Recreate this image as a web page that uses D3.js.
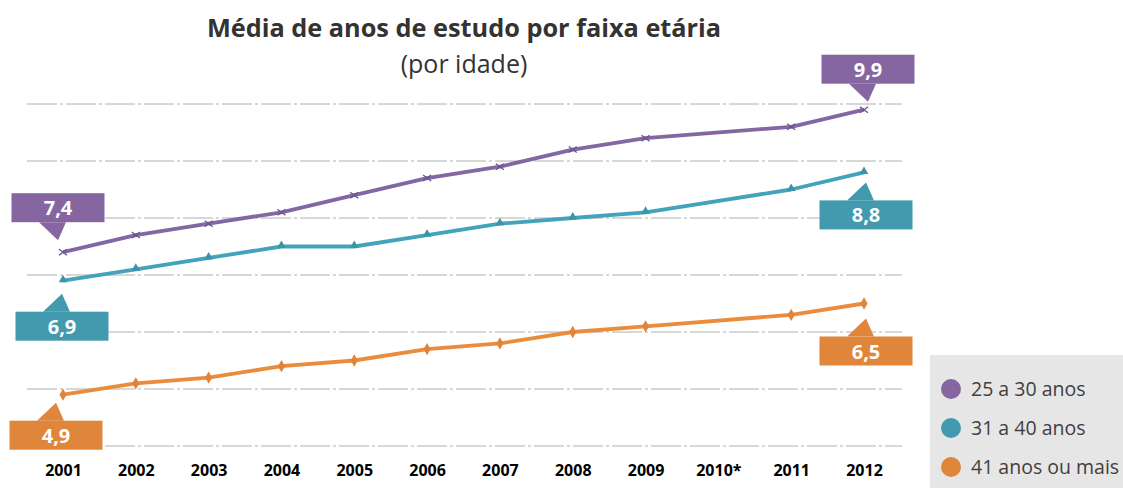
<html>
<head>
<meta charset="utf-8">
<script src="https://d3js.org/d3.v7.min.js"></script>
<style>
  body { margin:0; background:#fff; }
  svg { font-family: "Open Sans", sans-serif; }
  .grid line { stroke:#b0b0b0; stroke-width:1; stroke-dasharray:30,3,3,3; }
  .serie { fill:none; stroke-linejoin:round; }
</style>
</head>
<body>
<script>
// categorias do eixo x (2010 sem dado)
var anos = ["2001","2002","2003","2004","2005","2006","2007","2008","2009","2010*","2011","2012"];

// valores por faixa etaria (null = sem pesquisa)
var faixa25a30 = [7.4, 7.7, 7.9, 8.1, 8.4, 8.7, 8.9, 9.2, 9.4, null, 9.6, 9.9];
var faixa31a40 = [6.9, 7.1, 7.3, 7.5, 7.5, 7.7, 7.9, 8.0, 8.1, null, 8.5, 8.8];
var faixa41mais = [4.9, 5.1, 5.2, 5.4, 5.5, 5.7, 5.8, 6.0, 6.1, null, 6.3, 6.5];

var legendas = ["25 a 30 anos", "31 a 40 anos", "41 anos ou mais"];
var gradeY = [4, 5, 6, 7, 8, 9, 10];

var cores = ["#8466a3", "#43a3bb", "#ea8c3c"];
var coresCaixa = ["#8566a0", "#4399ae", "#df863b"];

var W = 1123, H = 488;

var svg = d3.select("body").append("svg")
  .attr("width", W).attr("height", H);

var x = d3.scalePoint().domain(anos).range([63, 864]);
var y = d3.scaleLinear().domain([4, 10]).range([446, 104]);

// titulo
svg.append("text").attr("x", 464).attr("y", 37)
  .attr("text-anchor", "middle").attr("font-size", 25.3).attr("font-weight", "bold")
  .attr("fill", "#333").text("Média de anos de estudo por faixa etária");
svg.append("text").attr("x", 464).attr("y", 73)
  .attr("text-anchor", "middle").attr("font-size", 25)
  .attr("fill", "#333").text("(por idade)");

// grade
svg.append("g").attr("class", "grid")
  .selectAll("line").data(gradeY).enter().append("line")
  .attr("x1", 27).attr("x2", 902)
  .attr("y1", function(d){ return y(d); })
  .attr("y2", function(d){ return y(d); });

// eixo x
var eixo = svg.append("g").attr("transform", "translate(0,446)")
  .call(d3.axisBottom(x).tickSize(0).tickPadding(19));
eixo.select(".domain").remove();
eixo.selectAll("text").attr("font-size", 16).attr("font-weight", "bold")
  .attr("fill", "#000").attr("font-family", "Open Sans, sans-serif");

var series = [faixa25a30, faixa31a40, faixa41mais];

var linha = d3.line()
  .x(function(d){ return x(d.ano); })
  .y(function(d){ return y(d.v); });

series.forEach(function(s, i){
  var pts = anos.map(function(a, j){ return {ano:a, v:s[j]}; })
    .filter(function(d){ return d.v != null; });

  svg.append("path").datum(pts).attr("class", "serie")
    .attr("stroke", cores[i]).attr("stroke-width", 3.8)
    .attr("d", linha);

  var g = svg.append("g");
  pts.forEach(function(d){
    var cx = x(d.ano), cy = y(d.v);
    if (i == 0) {
      g.append("path").attr("d", "M"+(cx-4)+","+(cy-3)+"L"+(cx+4)+","+(cy+3)+"M"+(cx-4)+","+(cy+3)+"L"+(cx+4)+","+(cy-3))
        .attr("stroke", "#6b5290").attr("stroke-width", 1.3);
    } else if (i == 1) {
      g.append("path").attr("d", d3.symbol().type(d3.symbolTriangle).size(32)())
        .attr("transform", "translate("+cx+","+(cy-1)+")").attr("fill", "#3b94a8");
    } else {
      g.append("path").attr("d", d3.symbol().type(d3.symbolDiamond).size(44)())
        .attr("transform", "translate("+cx+","+cy+")").attr("fill", "#e0843a");
    }
  });
});

// rotulos de valor (primeiro e ultimo ponto)
var rotulos = [
  {s:0, j:0, dx:-5, dy:-12, acima:true},
  {s:0, j:11, dx:4, dy:-8, acima:true},
  {s:1, j:0, dx:-1, dy:13, acima:false},
  {s:1, j:11, dx:2, dy:10, acima:false},
  {s:2, j:0, dx:-7, dy:8, acima:false},
  {s:2, j:11, dx:2, dy:15, acima:false}
];
var bw = 93, bh = 29, ph = 18;

rotulos.forEach(function(r){
  var v = series[r.s][r.j];
  var tx = x(anos[r.j]) + r.dx, ty = y(v) + r.dy;
  var top = r.acima ? ty - ph - bh : ty + ph;
  var base = r.acima ? top + bh : top;
  var c = coresCaixa[r.s];
  svg.append("rect").attr("x", tx - bw/2).attr("y", top)
    .attr("width", bw).attr("height", bh).attr("fill", c);
  svg.append("path")
    .attr("d", "M"+(tx-19)+","+base+"L"+tx+","+ty+"L"+(tx+8)+","+base+"Z")
    .attr("fill", c);
  svg.append("text").attr("x", tx).attr("y", top + bh/2 + 7.5)
    .attr("text-anchor", "middle").attr("font-size", 20).attr("font-weight", "bold")
    .attr("fill", "#fff").text(d3.format(".1f")(v).replace(".", ","));
});

// legenda
var leg = svg.append("g");
leg.append("rect").attr("x", 930).attr("y", 355).attr("width", 193).attr("height", 133)
  .attr("fill", "#e6e6e6");
legendas.forEach(function(t, i){
  var ly = 389 + i * 39;
  leg.append("circle").attr("cx", 951).attr("cy", ly).attr("r", 10).attr("fill", coresCaixa[i]);
  leg.append("text").attr("x", 971).attr("y", ly + 7).attr("font-size", 19.5)
    .attr("fill", "#404040").text(t);
});
</script>
</body>
</html>
